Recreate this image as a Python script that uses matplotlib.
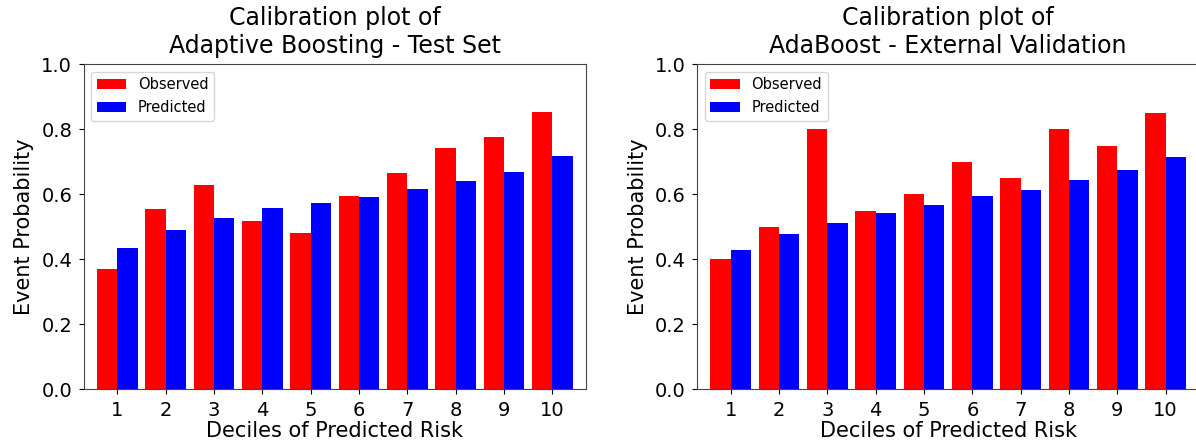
import matplotlib
matplotlib.use("Agg")
import matplotlib.pyplot as plt
import numpy as np

# deciles 1..10
deciles = [1, 2, 3, 4, 5, 6, 7, 8, 9, 10]

# Adaptive Boosting - Test Set
test_observed = [0.369, 0.556, 0.630, 0.519, 0.482, 0.594, 0.667, 0.742, 0.777, 0.853]
test_predicted = [0.435, 0.491, 0.528, 0.557, 0.572, 0.592, 0.615, 0.641, 0.669, 0.718]

# AdaBoost - External Validation
ext_observed = [0.400, 0.500, 0.800, 0.550, 0.600, 0.700, 0.650, 0.800, 0.750, 0.850]
ext_predicted = [0.429, 0.479, 0.513, 0.543, 0.568, 0.594, 0.613, 0.645, 0.676, 0.715]

titles = ["Calibration plot of\nAdaptive Boosting - Test Set",
          "Calibration plot of\nAdaBoost - External Validation"]


def draw_panel(ax, observed, predicted, title):
    x = np.array(deciles)
    w = 0.42
    ax.bar(x - w / 2, observed, width=w, color="red", label="Observed")
    ax.bar(x + w / 2, predicted, width=w, color="blue", label="Predicted")
    ax.set_xticks(x)
    ax.set_xticklabels([str(d) for d in deciles])
    ax.set_xlim(0.31, 10.69)
    ax.set_ylim(0, 1.0)
    ax.set_yticks([0.0, 0.2, 0.4, 0.6, 0.8, 1.0])
    ax.tick_params(labelsize=14, pad=5)
    ax.set_xlabel("Deciles of Predicted Risk", fontsize=15, labelpad=1)
    ax.set_ylabel("Event Probability", fontsize=15, labelpad=5)
    ax.set_title(title, fontsize=17, pad=8)
    ax.legend(loc="upper left", fontsize=10.5)
    for s in ax.spines.values():
        s.set_color("#444444")


fig = plt.figure(figsize=(11.96, 4.48), dpi=100)
ax1 = fig.add_axes([84 / 1196, 58.7 / 448, 501.7 / 1196, 325 / 448])
ax2 = fig.add_axes([697.3 / 1196, 58.7 / 448, 501.7 / 1196, 325 / 448])

draw_panel(ax1, test_observed, test_predicted, titles[0])
draw_panel(ax2, ext_observed, ext_predicted, titles[1])

plt.savefig("out.png", dpi=100)
